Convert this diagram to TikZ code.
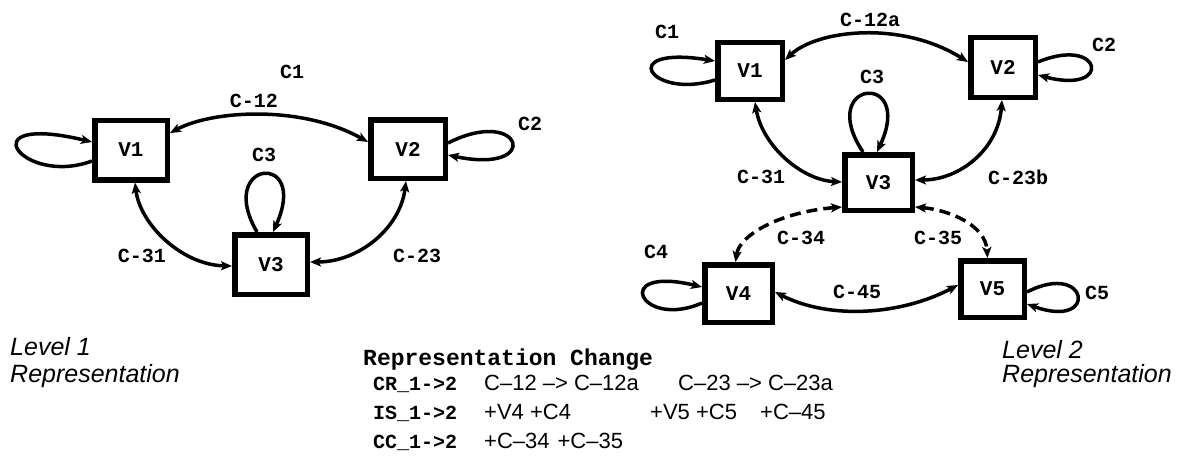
\documentclass[tikz,border=0pt]{standalone}
\usepackage{fontspec}
\usetikzlibrary{arrows.meta}
\newfontfamily\courfont{Liberation Mono}
\newfontfamily\helvfont{Liberation Sans}
\begin{document}
\begin{tikzpicture}[x=1pt,y=-1pt,
  vbox/.style={draw,line width=5.5pt,fill=white,inner sep=0pt,
    font=\courfont\bfseries\fontsize{21}{24}\selectfont},
  lbl/.style={font=\courfont\bfseries\fontsize{20}{24}\selectfont,inner sep=0pt},
  monotxt/.style={font=\courfont\bfseries\fontsize{20}{24}\selectfont,inner sep=0pt,anchor=base west},
  sanstxt/.style={font=\helvfont\fontsize{22}{26}\selectfont,inner sep=0pt,anchor=base west},
  leveltxt/.style={font=\helvfont\itshape\fontsize{25}{28}\selectfont,inner sep=0pt,anchor=base west},
  conn/.style={line width=3.5pt},
  tip/.tip={Stealth[length=11pt,width=9pt,inset=2.5pt]},
  both/.style={conn,tip-tip},
  one/.style={conn,-tip},
  dashconn/.style={conn,dash pattern=on 11pt off 6pt}
]
\useasboundingbox (0,0) rectangle (1188,460);

% ---------- Level 1 graph ----------
\node[vbox,minimum width=72.5pt,minimum height=59.5pt] (aV1) at (131,150) {V1};
\node[vbox,minimum width=74.5pt,minimum height=58.5pt] (aV2) at (408,149) {V2};
\node[vbox,minimum width=72.5pt,minimum height=59.5pt] (aV3) at (271,264.5) {V3};

\draw[both] ([yshift=17pt]aV1.east) .. controls +(43,-23) and +(-66,-37) .. ([yshift=7pt]aV2.west);
\draw[both] ([xshift=4pt]aV1.south) .. controls +(5,42) and +(-50,-1) .. ([yshift=-1.5pt]aV3.west);
\draw[both] ([xshift=-2pt]aV2.south) .. controls +(-6,48) and +(48,0) .. ([yshift=2.5pt]aV3.east);
\draw[one] ([yshift=-11pt]aV1.west) .. controls +(-70,26) and +(-125,-30) .. ([yshift=8pt]aV1.west);
\draw[one] ([yshift=6pt]aV2.east) .. controls +(75,-38) and +(95,20) .. ([yshift=-6pt]aV2.east);
\draw[one] ([xshift=-14pt]aV3.north) .. controls +(-42,-72) and +(37,-82) .. ([xshift=2pt]aV3.north);

\node[lbl] (aC1) at (292,72) {C1};
\node[lbl] (aC12) at (254,101) {C-12};
\node[lbl] (aC2) at (530,124) {C2};
\node[lbl] (aC3) at (264,155) {C3};
\node[lbl] (aC31) at (142,256) {C-31};
\node[lbl] (aC23) at (417,256) {C-23};

% ---------- Level 2 graph ----------
\node[vbox,minimum width=64.5pt,minimum height=56.5pt] (bV1) at (750,71) {V1};
\node[vbox,minimum width=64.5pt,minimum height=59.5pt] (bV2) at (1003,67.5) {V2};
\node[vbox,minimum width=67.5pt,minimum height=55.5pt] (bV3) at (878.5,182.5) {V3};
\node[vbox,minimum width=67.5pt,minimum height=57.5pt] (bV4) at (738.5,293.5) {V4};
\node[vbox,minimum width=63.5pt,minimum height=56.5pt] (bV5) at (992.5,289) {V5};

\draw[both] ([yshift=11pt]bV1.east) .. controls +(32,-30) and +(-67,-42) .. ([yshift=5.5pt]bV2.west);
\draw[both] ([xshift=5pt]bV1.south) .. controls +(7,43) and +(-41,-2) .. ([yshift=0.5pt]bV3.west);
\draw[both] ([xshift=-1pt]bV2.south) .. controls +(-4,50) and +(44,0) .. ([yshift=2.5pt]bV3.east);
\draw[dashconn,tip-tip] ([yshift=-24.5pt]bV3.west) .. controls +(-62,5) and +(4,-27) .. ([xshift=-3pt]bV4.north);
\draw[dashconn,tip-tip] ([yshift=-24.5pt]bV3.east) .. controls +(34,3) and +(-2,-33) .. ([xshift=-5pt]bV5.north);
\draw[both] ([yshift=1.5pt]bV4.east) .. controls +(55,28) and +(-57,30) .. ([yshift=4pt]bV5.west);
\draw[one] ([yshift=-9pt]bV1.west) .. controls +(-65,20) and +(-100,-16) .. ([yshift=10pt]bV1.west);
\draw[one] ([yshift=5.5pt]bV2.east) .. controls +(65,-27) and +(75,20) .. ([yshift=-7.5pt]bV2.east);
\draw[one] ([xshift=-15.5pt]bV3.north) .. controls +(-48,-72) and +(38,-82) .. ([xshift=-1.5pt]bV3.north);
\draw[one] ([yshift=-9.5pt]bV4.west) .. controls +(-62,27) and +(-92,-22) .. ([yshift=6.5pt]bV4.west);
\draw[one] ([yshift=-3pt]bV5.east) .. controls +(62,-32) and +(72,26) .. ([yshift=-15pt]bV5.east);

\node[lbl] (bC1) at (667,32) {C1};
\node[lbl] (bC12) at (870,20) {C-12a};
\node[lbl] (bC2) at (1104,45) {C2};
\node[lbl] (bC3) at (872,77) {C3};
\node[lbl] (bC31) at (761,177) {C-31};
\node[lbl] (bC23) at (1018,177) {C-23b};
\node[lbl] (bC34) at (801,238) {C-34};
\node[lbl] (bC35) at (938,238) {C-35};
\node[lbl] (bC4) at (656,252) {C4};
\node[lbl] (bC45) at (857,292) {C-45};
\node[lbl] (bC5) at (1097,293) {C5};

% ---------- captions ----------
\node[leveltxt] (lv1a) at (10,355) {Level 1};
\node[leveltxt] (lv1b) at (10,382) {Representation};
\node[leveltxt] (lv2a) at (1002,358) {Level 2};
\node[leveltxt] (lv2b) at (1002,382) {Representation};

% ---------- change summary ----------
\node[monotxt,font=\courfont\bfseries\fontsize{23}{26}\selectfont] (rc) at (363,365) {Representation Change};
\node[monotxt] (cr) at (373,390) {CR\_1->2};
\node[sanstxt] (cr1) at (484,390) {C–12 –> C–12a};
\node[sanstxt] (cr2) at (678,390) {C–23 –> C–23a};
\node[monotxt] (is) at (373,419) {IS\_1->2};
\node[sanstxt] (is1) at (484,419) {+V4 +C4};
\node[sanstxt] (is2) at (650,419) {+V5 +C5};
\node[sanstxt] (is3) at (760,419) {+C–45};
\node[monotxt] (cc) at (373,448) {CC\_1->2};
\node[sanstxt] (cc1) at (484,448) {+C–34\hspace{8pt}+C–35};
\end{tikzpicture}
\end{document}
